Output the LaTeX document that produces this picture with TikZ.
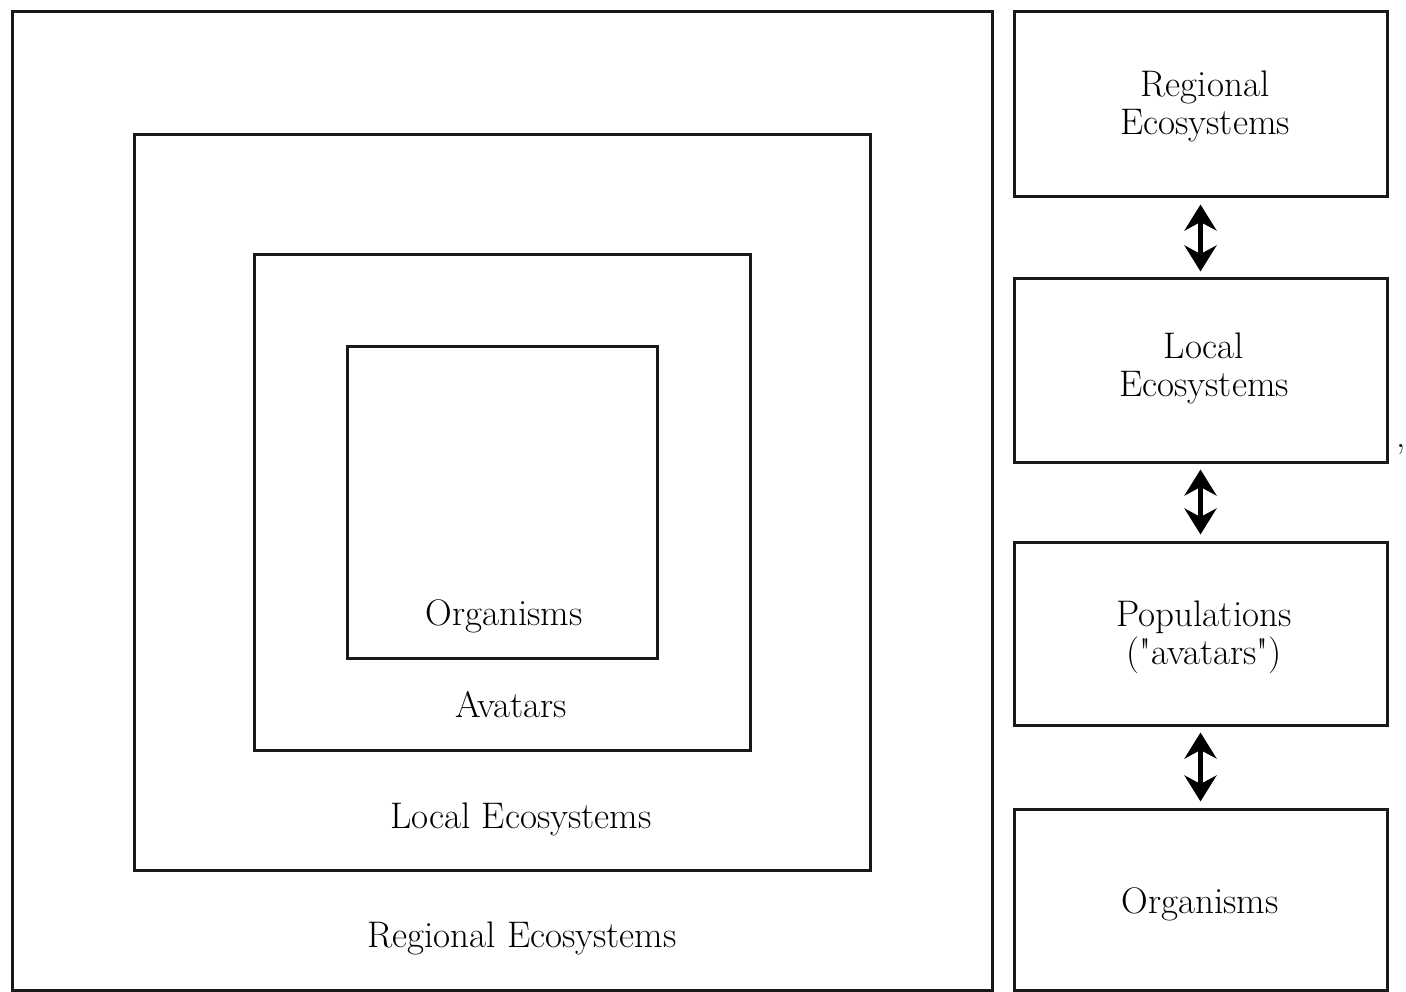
\documentclass[tikz,border=0pt]{standalone}
\usepackage{fontspec}
\setmainfont{Latin Modern Roman}
% same face without TeX input mapping, so " stays a straight quote
\newfontfamily\straightq{Latin Modern Roman}[Ligatures=TeXOff]
\usetikzlibrary{arrows.meta}
\begin{document}
\begin{tikzpicture}[x=1pt,y=-1pt,
  frame/.style={draw=black!90,line width=3pt,rectangle,inner sep=0pt},
  lbl/.style={font=\fontsize{37}{38}\selectfont,align=center,inner sep=0pt,text=black},
  link/.style={line width=5pt,{Stealth[length=26pt,width=32pt]}-{Stealth[length=26pt,width=32pt]},shorten <=6pt,shorten >=6pt}]
\useasboundingbox (0,0) rectangle (1406,992);

% nested levels on the left
\node[frame,minimum width=980pt,minimum height=978pt] (regional) at (502,501) {};
\node[frame,minimum width=736pt,minimum height=735pt] (local) at (502,502.5) {};
\node[frame,minimum width=496pt,minimum height=495pt] (avatars) at (502,502.5) {};
\node[frame,minimum width=310pt,minimum height=311pt] (organisms) at (502,502.5) {};

\node[lbl,anchor=base] (torg) at (504,625) {Organisms};
\node[lbl,anchor=base] (tava) at (511,717) {Avatars};
\node[lbl,anchor=base] (tloc) at (521,828) {Local Ecosystems};
\node[lbl,anchor=base] (treg) at (522,947) {Regional Ecosystems};

% hierarchy on the right
\node[frame,minimum width=373pt,minimum height=185pt] (ra) at (1200.5,104.5) {};
\node[frame,minimum width=373pt,minimum height=183pt] (rb) at (1200.5,370.5) {};
\node[frame,minimum width=373pt,minimum height=183pt] (rc) at (1200.5,633.5) {};
\node[frame,minimum width=373pt,minimum height=181pt] (rd) at (1200.5,899.5) {};

\node[lbl] (ta) at (1205,106) {Regional\\Ecosystems};
\node[lbl] (tb) at (1204,368) {Local\\Ecosystems};
\node[lbl] (tc) at (1204,637) {Populations\\\straightq("avatars")};
\node[lbl] (td) at (1200,904) {Organisms};

\draw[link] (ra.south) -- (rb.north);
\draw[link] (rb.south) -- (rc.north);
\draw[link] (rc.south) -- (rd.north);

\node[lbl,anchor=base] (comma) at (1401,447) {,};
\end{tikzpicture}
\end{document}
